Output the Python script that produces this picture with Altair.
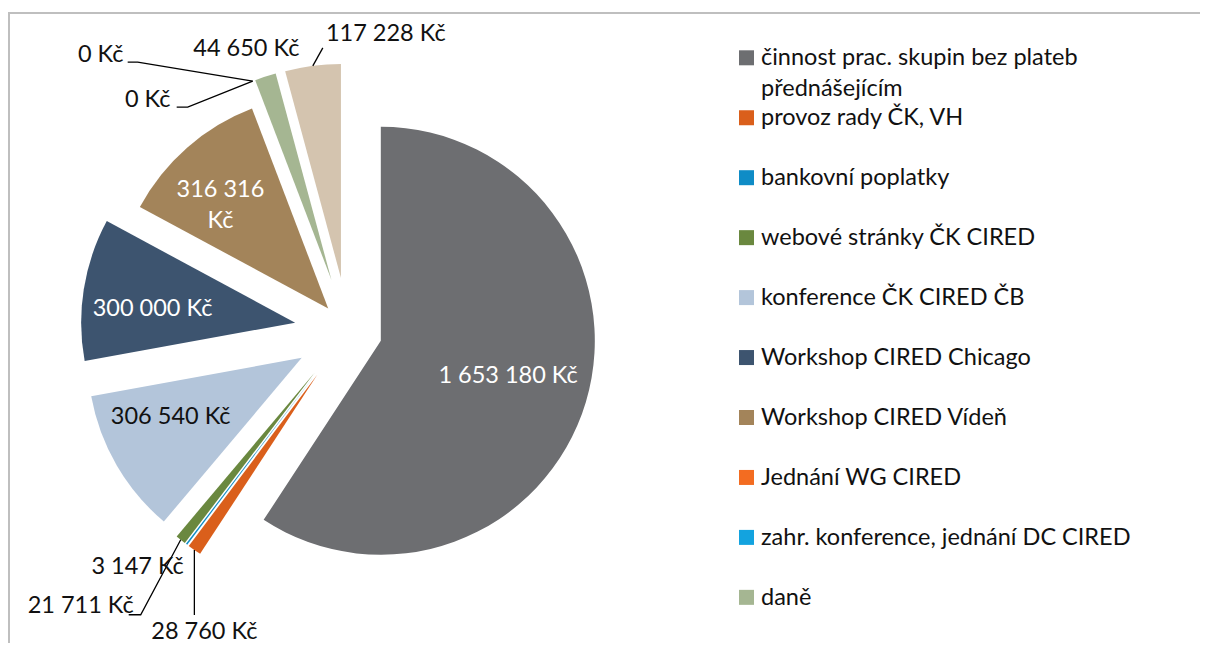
import math
import altair as alt
import pandas as pd

# ---------------- data ----------------
categories = [
    "činnost prac. skupin bez plateb přednášejícím",
    "provoz rady ČK, VH",
    "bankovní poplatky",
    "webové stránky ČK CIRED",
    "konference ČK CIRED ČB",
    "Workshop CIRED Chicago",
    "Workshop CIRED Vídeň",
    "Jednání WG CIRED",
    "zahr. konference, jednání DC CIRED",
    "daně",
    "ostatní",
]
values = [1653180, 28760, 3147, 21711, 306540, 300000, 316316, 0, 0, 44650, 117228]
colors = ["#6D6E71", "#DA5F1B", "#0F8CC6", "#6A883F", "#B3C5DA", "#3D546F",
          "#A3845A", "#F36C21", "#13A3DF", "#A5B692", "#D4C4AF"]
# legend shows the first ten entries (the rest is cut off by the frame)
legend_count = 10
legend_wrap = {0: "činnost prac. skupin bez plateb\npřednášejícím"}

# ---------------- style / layout ----------------
explode = [0.16, 0.25, 0.25, 0.25, 0.25, 0.25, 0.14, 0.25, 0.25, 0.25, 0.25]
label_r = [0.64, 1.0, 1.0, 1.0, 0.67, 0.67, 0.70, 1.0, 1.0, 1.0, 1.0]
label_dx = [-4, 10, -49, -100, -7, -1, -9, -152, -105, -19, 73]
label_dy = [-4, 82, 23, 66, -13, 9, -6, -26, 19, -28, -32]
label_white = [True, False, False, False, False, True, True, False, False, False, False]
label_wrap = [False, False, False, False, False, False, True, False, False, False, False]
# leader lines: points as offsets from the label centre (first point = slice edge)
leaders = {
    1: [(-10, -17)],
    3: [(60, 9), (48, 9)],
    7: [(37, 7), (27, 7)],
    8: [(40, 7), (29, 7)],
    10: [(-63, 14)],
}
R = 214
CX, CY = 340, 323
FONT = "Lato"
FS = 23.5
TXT = "#111111"

W, H = 1192, 635

total = sum(values)


def fmt(v, wrap=False):
    s = f"{v:,}".replace(",", " ")
    return s + ("\nKč" if wrap else " Kč")


rows, lab_rows, lead_rows = [], [], []
cum = 0
for i, (c, v) in enumerate(zip(categories, values)):
    start, end = cum, cum + v
    cum = end
    mid = (start + end) / 2 / total * 2 * math.pi
    ux, uy = math.sin(mid), -math.cos(mid)
    ax = CX + explode[i] * R * ux
    ay = CY + explode[i] * R * uy
    rows.append(dict(cat=c, start=start, end=end, ax=ax, ay=ay, color=colors[i]))
    lx = ax + label_r[i] * R * ux + label_dx[i]
    ly = ay + label_r[i] * R * uy + label_dy[i]
    lab_rows.append(dict(lx=lx, ly=ly, text=fmt(v, label_wrap[i]),
                         tcolor="#FFFFFF" if label_white[i] else TXT))
    if i in leaders:
        ex, ey = ax + R * ux, ay + R * uy
        pts = [(ex, ey)] + [(lx + ox, ly + oy) for ox, oy in leaders[i]]
        for k, (px, py) in enumerate(pts):
            lead_rows.append(dict(seg=i, k=k, px=px, py=py))

arc_df = pd.DataFrame(rows)
lab_df = pd.DataFrame(lab_rows)
lead_df = pd.DataFrame(lead_rows)

leg_df = pd.DataFrame({
    "idx": list(range(legend_count)),
    "label": [legend_wrap.get(i, categories[i]) for i in range(legend_count)],
    "color": colors[:legend_count],
})

xs = dict(scale=None, axis=None)

arcs = alt.Chart(arc_df).mark_arc(radius=R).encode(
    theta=alt.Theta("start:Q", stack=None,
                    scale=alt.Scale(domain=[0, total], range=[0, 2 * math.pi], nice=False)),
    theta2="end:Q",
    x=alt.X("ax:Q", **xs),
    y=alt.Y("ay:Q", **xs),
    color=alt.Color("color:N", scale=None),
)

labels = alt.Chart(lab_df).mark_text(
    font=FONT, fontSize=FS, lineBreak="\n", lineHeight=31, align="center", baseline="middle"
).encode(
    x=alt.X("lx:Q", **xs),
    y=alt.Y("ly:Q", **xs),
    text="text:N",
    color=alt.Color("tcolor:N", scale=None),
)

lead = alt.Chart(lead_df).mark_line(color="#000000", strokeWidth=1.3).encode(
    x=alt.X("px:Q", **xs),
    y=alt.Y("py:Q", **xs),
    detail="seg:N",
    order="k:Q",
)

leg_sq = alt.Chart(leg_df).mark_square(size=225, opacity=1, filled=True).transform_calculate(
    ry="49.8 + datum.idx * 59.95"
).encode(
    x=alt.value(738.5),
    y=alt.Y("ry:Q", **xs),
    color=alt.Color("color:N", scale=None),
)

leg_txt = alt.Chart(leg_df).mark_text(
    font=FONT, fontSize=FS, lineBreak="\n", lineHeight=31, align="left",
    baseline="alphabetic", color=TXT
).transform_calculate(
    ry="57.3 + datum.idx * 59.95"
).encode(
    x=alt.value(753),
    y=alt.Y("ry:Q", **xs),
    text="label:N",
)

one = pd.DataFrame({"a": [0]})
top_rule = alt.Chart(one).mark_rule(color="#BFBFBF", strokeWidth=2).encode(
    x=alt.value(0), x2=alt.value(W), y=alt.value(5)
)
left_rule = alt.Chart(one).mark_rule(color="#BFBFBF", strokeWidth=2).encode(
    x=alt.value(1), y=alt.value(5), y2=alt.value(H)
)

chart = alt.layer(top_rule, left_rule, arcs, lead, labels, leg_sq, leg_txt).properties(
    width=W, height=H, autosize="none", padding=0
).configure_view(stroke=None)

chart.save("out.html", embed_options={"renderer": "svg", "actions": False})
